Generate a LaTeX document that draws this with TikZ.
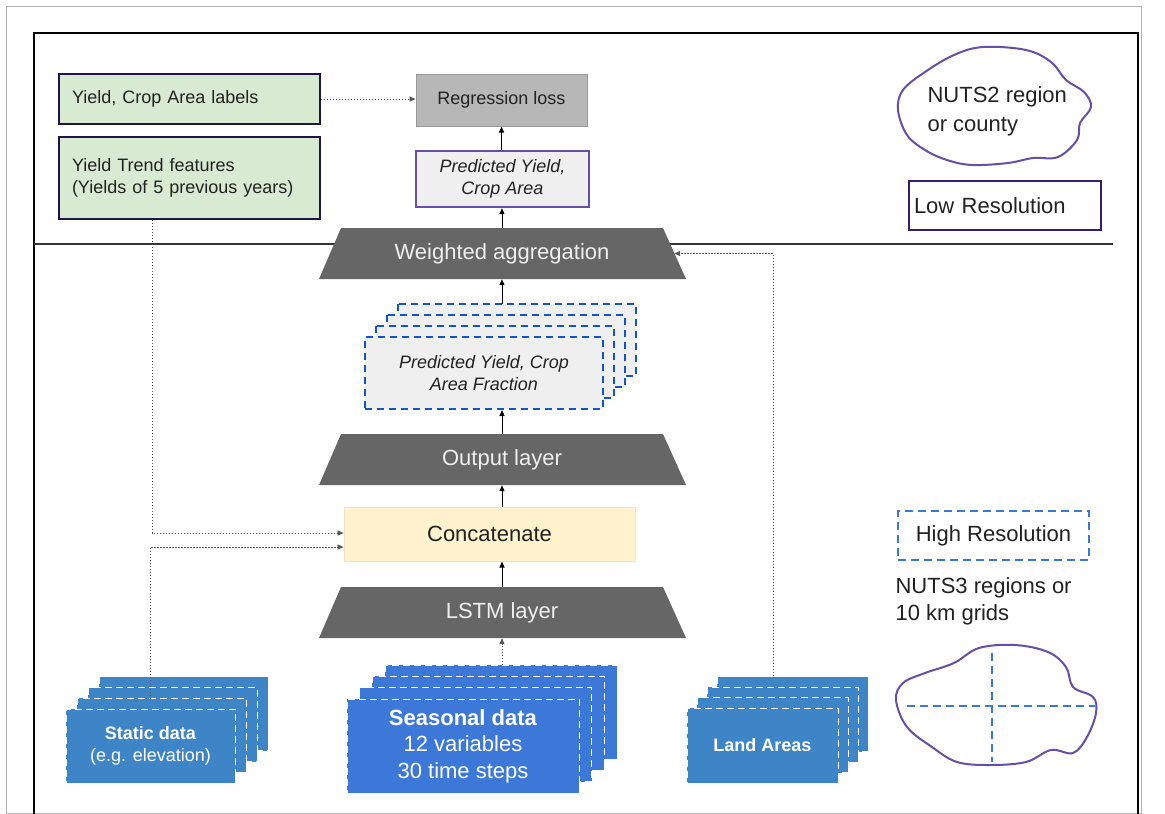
\documentclass[tikz,border=0pt]{standalone}
\usepackage{fontspec}
\setmainfont{Liberation Sans}
\usetikzlibrary{arrows.meta}
\definecolor{trapfill}{HTML}{666666}
\definecolor{traptext}{HTML}{EFEFEF}
\definecolor{greenfill}{HTML}{D9EAD3}
\definecolor{navyb}{HTML}{20124D}
\definecolor{regfill}{HTML}{B7B7B7}
\definecolor{regdraw}{HTML}{999999}
\definecolor{lightfill}{HTML}{EFEFEF}
\definecolor{purp}{HTML}{674EA7}
\definecolor{dpurp}{HTML}{351C75}
\definecolor{concfill}{HTML}{FFF2CC}
\definecolor{concdraw}{HTML}{EDE3C8}
\definecolor{blueA}{HTML}{3D85C6}
\definecolor{blueB}{HTML}{3C78D8}
\definecolor{dashblue}{HTML}{1155CC}
\definecolor{txtc}{HTML}{222222}
\definecolor{dotc}{HTML}{555555}

\newcommand\trapshape[2]{%
  \fill[trapfill] ({#1-161},{#2-25.5}) -- ({#1+161},{#2-25.5}) -- ({#1+184},{#2+25.5}) -- ({#1-183},{#2+25.5}) -- cycle;}
\newcommand\layerstack[7]{%
  \foreach \k in {3,2,1}{\path[#7] ({#1+\k*#5},{#2-\k*#6}) rectangle ({#3+\k*#5},{#4-\k*#6});}}

\tikzset{
  txt/.style={font=\fontsize{18}{22}\selectfont, text=txtc},
  bigtxt/.style={font=\fontsize{22}{27}\selectfont, text=txtc},
  greenbox/.style={draw=navyb, line width=1.2pt, fill=greenfill, text width=235pt, align=left, inner xsep=13pt, inner ysep=0pt, txt},
  regbox/.style={draw=regdraw, line width=1pt, fill=regfill, minimum width=171pt, minimum height=52pt, inner sep=0pt, txt},
  predbox/.style={draw=purp, line width=2.4pt, fill=lightfill, minimum width=173pt, minimum height=56pt, inner sep=0pt, align=center, txt, font=\fontsize{18}{22}\selectfont\itshape},
  trapnode/.style={minimum width=344pt, minimum height=51pt, inner sep=0pt, text=traptext, font=\fontsize{22}{27}\selectfont},
  bluelayer/.style={fill=#1, draw=white, line width=0.9pt, dash pattern=on 7pt off 4pt},
  bluebox/.style={bluelayer=#1, text=white, align=center, inner sep=0pt},
  fraclayer/.style={fill=lightfill, draw=dashblue, line width=2pt, dash pattern=on 7pt off 5pt},
  concbox/.style={draw=concdraw, line width=1pt, fill=concfill, minimum width=291pt, minimum height=54pt, inner sep=0pt, bigtxt},
  resbox/.style={minimum width=192pt, minimum height=49pt, inner sep=0pt, bigtxt},
  arr/.style={draw=black, line width=1pt, -{Triangle[length=6pt,width=5pt]}},
  dotarr/.style={draw=dotc, line width=0.9pt, dash pattern=on 1.5pt off 1.5pt, -{Triangle[length=6pt,width=5pt]}},
  cloudline/.style={draw=purp, line width=2pt},
  gridline/.style={draw=blueB, line width=2.2pt, dash pattern=on 8pt off 5pt},
}

\begin{document}
\begin{tikzpicture}[x=1pt,y=-1pt]
\useasboundingbox[fill=white] (0,0) rectangle (1165,814);
% frames
\draw[black!30, line width=1pt] (6,813) -- (6,6) -- (1141,6) -- (1141,813) -- cycle;
\draw[black, line width=1.6pt] (34,814) -- (34,33) -- (1138,33) -- (1138,814);
% separator line
\draw[black!80, line width=1.2pt] (34,244) -- (1113,244);

% top-left green boxes
\node[greenbox, minimum height=50pt] (labels) at (189.5,99) {Yield, Crop Area labels};
\node[greenbox, minimum height=82pt] (trend) at (189.5,178) {Yield Trend features\\(Yields of 5 previous years)};

% regression loss + predicted
\node[regbox] (reg) at (501.5,100) {Regression loss};
\node[predbox] (pred) at (502.5,179) {Predicted Yield,\\Crop Area};

% trapezoids
\trapshape{502}{253.5}
\node[trapnode] (wagg) at (502,253.5) {Weighted aggregation};
\trapshape{502}{459.5}
\node[trapnode] (outl) at (502,459.5) {Output layer};
\trapshape{502}{612.5}
\node[trapnode] (lstm) at (502,612.5) {LSTM layer};

% fraction stack
\layerstack{365}{337}{603}{409}{11}{11}{fraclayer}
\node[fraclayer, minimum width=238pt, minimum height=72pt, inner sep=0pt, align=center, txt, font=\fontsize{18}{22}\selectfont\itshape] (frac) at (484,373) {Predicted Yield, Crop\\Area Fraction};
\coordinate (fracTop) at (502,304);

% concatenate
\node[concbox] (concat) at (489.5,534) {Concatenate};

% data stacks
\layerstack{66}{709}{235}{783}{11}{10.7}{bluelayer=blueA}
\node[bluebox=blueA, minimum width=169pt, minimum height=74pt, font=\fontsize{18}{22}\selectfont] (static) at (150.5,746) {\textbf{Static data}\\(e.g. elevation)};
\coordinate (statTop) at (150,699);

\layerstack{347}{699}{579}{793}{12.7}{11.3}{bluelayer=blueB}
\node[bluebox=blueB, minimum width=232pt, minimum height=94pt, font=\fontsize{22}{26.5}\selectfont] (seas) at (463,746) {\textbf{Seasonal data}\\12 variables\\30 time steps};
\coordinate (seasTop) at (502,665);

\layerstack{687}{708}{838}{783}{10}{10.5}{bluelayer=blueA}
\node[bluebox=blueA, minimum width=151pt, minimum height=75pt, font=\fontsize{18}{22}\selectfont\bfseries] (land) at (762.5,745.5) {Land Areas};
\coordinate (landTop) at (773,676);

% right legend
\draw[cloudline] plot[smooth cycle, tension=0.6] coordinates {
 (983,47) (1026,50) (1051,62) (1066,80) (1084,92) (1091,107) (1080,123) (1077,140)
 (1058,157) (1033,158) (1008,163) (972,165) (947,160) (925,150) (907,135) (898,110)
 (903,90) (925,72) (954,55)};
\node[bigtxt, anchor=west, align=left, font=\fontsize{22}{29}\selectfont] (nuts2) at (924,111) {NUTS2 region\\or county};
\node[resbox, draw=dpurp, line width=2pt, anchor=center, text width=182pt, inner xsep=5pt, align=left] (lowres) at (1005,205.5) {Low Resolution};

\node[resbox, gridline, minimum width=191pt] (highres) at (993.5,535.5) {High Resolution};
\node[bigtxt, anchor=west, align=left, font=\fontsize{22}{27}\selectfont] (nuts3) at (892,601) {NUTS3 regions or\\10 km grids};
\draw[cloudline] plot[smooth cycle, tension=0.6] coordinates {
 (979,648) (1015,645) (1048,652) (1066,667) (1073,687) (1093,697) (1096,713) (1087,737)
 (1073,753) (1051,750) (1026,762) (990,765) (957,762) (932,747) (907,727) (896,700)
 (903,683) (925,673) (954,663)};
\draw[gridline] (992,653) -- (992,762);
\draw[gridline] (907,706) -- (1095,706);

% solid arrows
\draw[arr] (pred.north -| reg.south) -- (reg.south);
\draw[arr] (wagg.north) -- (wagg.north |- pred.south);
\draw[arr] (fracTop) -- (wagg.south);
\draw[arr] (outl.north) -- (outl.north |- frac.south);
\draw[arr] (outl.south |- concat.north) -- (outl.south);
\draw[arr] (lstm.north) -- (lstm.north |- concat.south);

% dotted arrows
\draw[dotarr] (labels.east) -- (labels.east -| reg.west);
\draw[dotarr] (trend.south -| 152,0) |- ([yshift=1pt]concat.west);
\draw[dotarr] (statTop) |- ([yshift=-13pt]concat.west);
\draw[dotarr] (seasTop) -- (lstm.south);
\draw[dotarr] (landTop) |- (wagg.east);
\end{tikzpicture}
\end{document}
